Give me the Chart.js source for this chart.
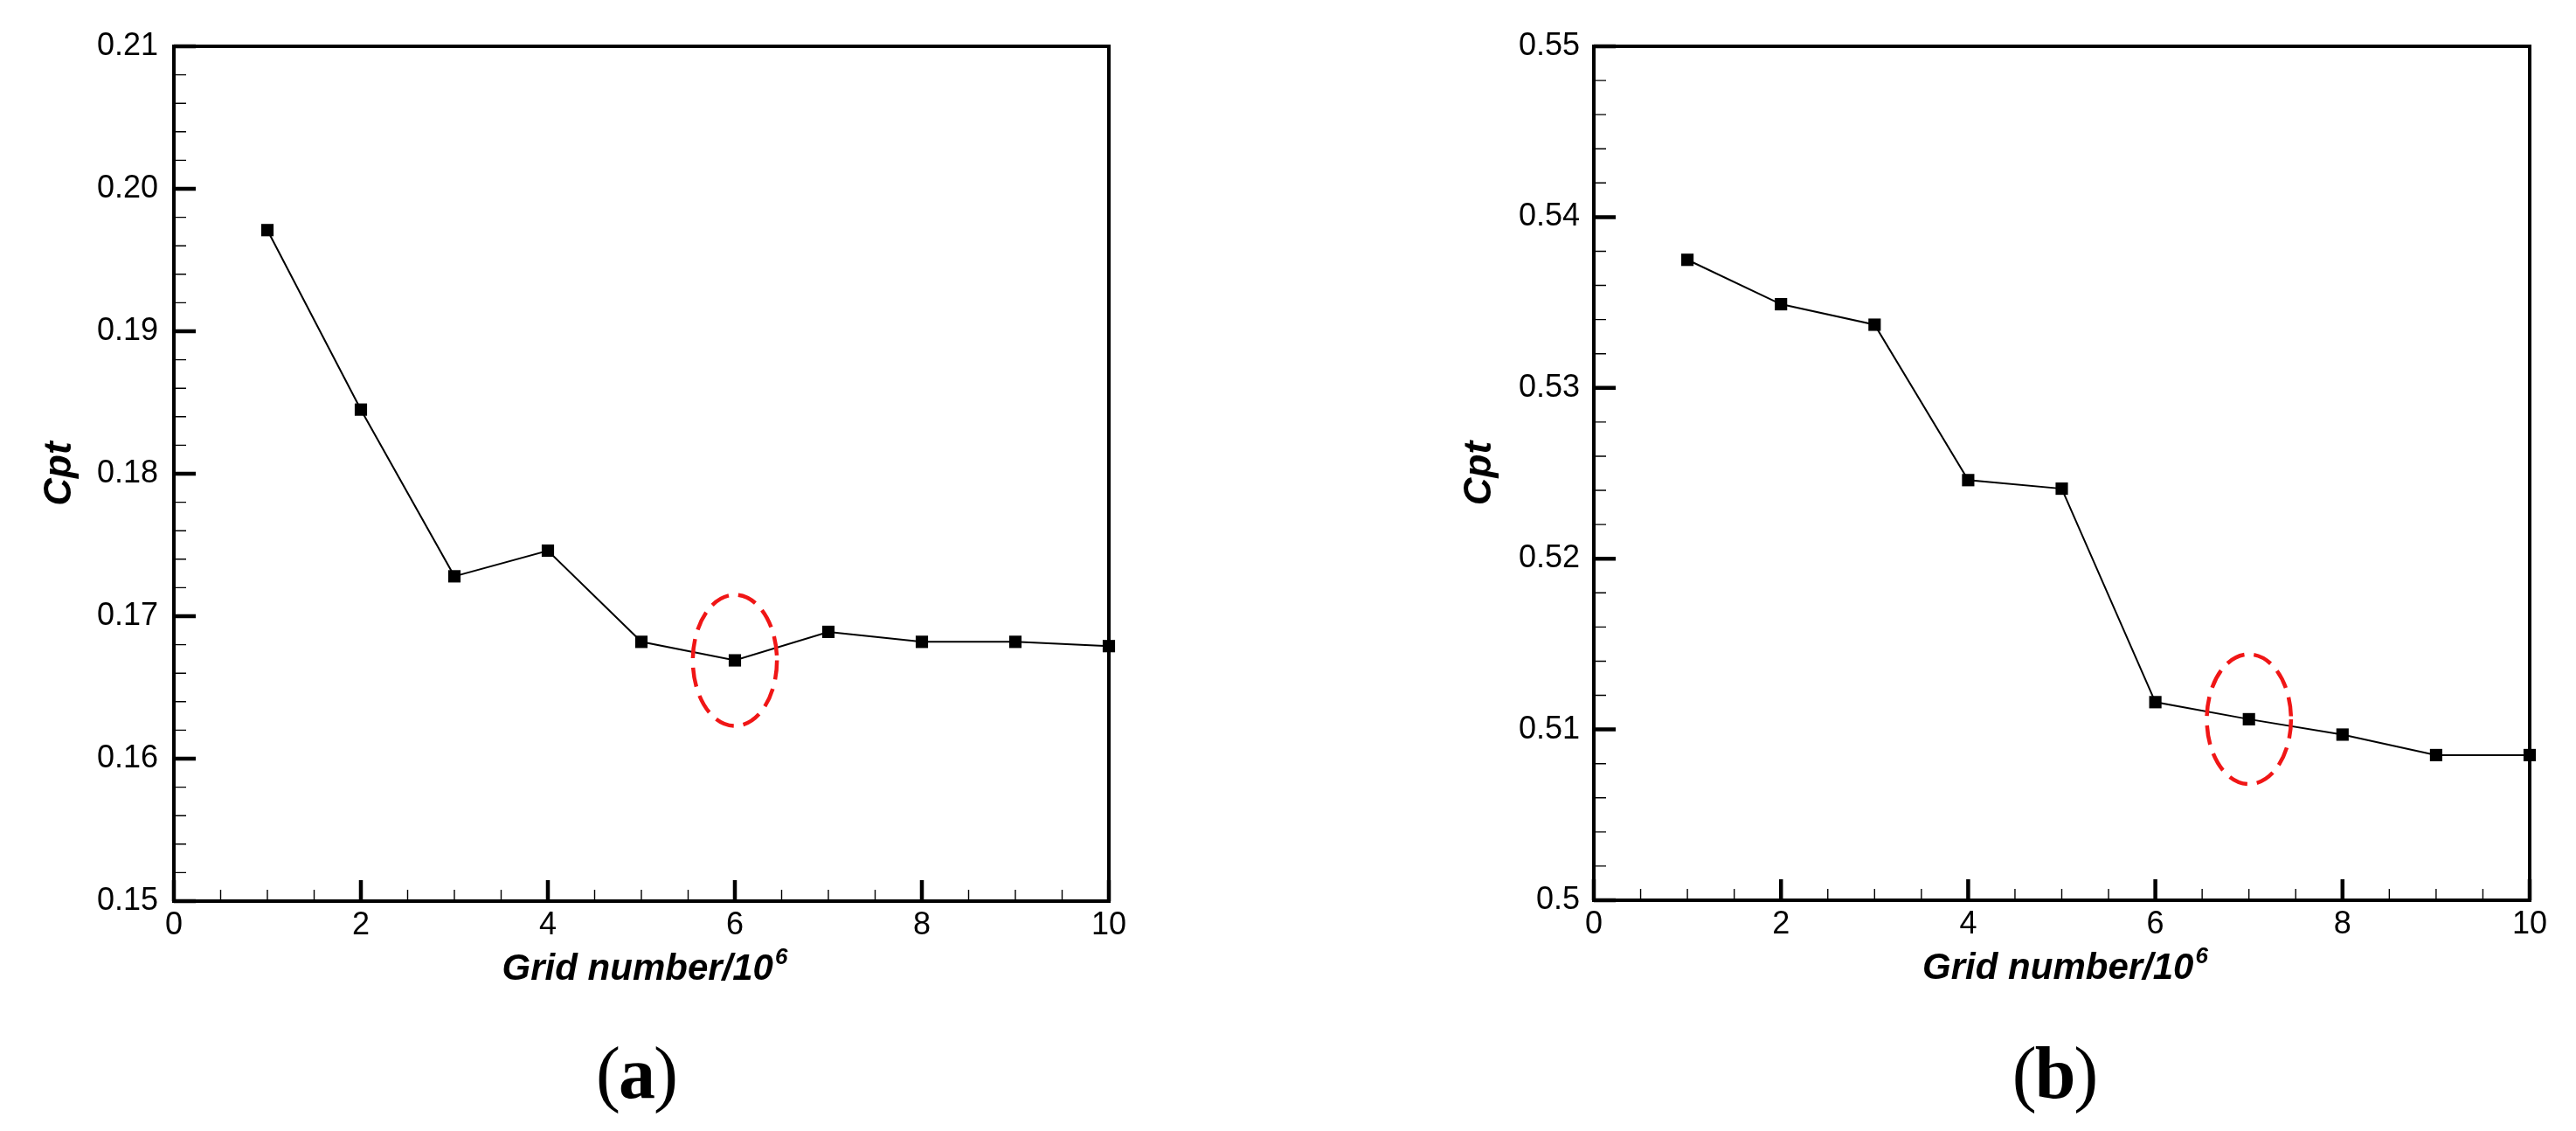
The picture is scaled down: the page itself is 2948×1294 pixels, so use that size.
<!DOCTYPE html>
<html>
<head>
<meta charset="utf-8">
<title>Cpt vs grid number</title>
<script src="https://cdn.jsdelivr.net/npm/chart.js@4.4.1/dist/chart.umd.min.js"></script>
<style>
  html, body { margin: 0; padding: 0; background: #fff; }
  #wrap { position: relative; width: 2948px; height: 1294px; overflow: hidden; }
  canvas { position: absolute; top: 0; }
  .panel-tag {
    position: absolute; top: 1186px; width: 200px; text-align: center;
    font-family: 'Liberation Serif', 'Times New Roman', serif;
    font-size: 84px; line-height: 84px; color: #000; letter-spacing: -2px;
  }
</style>
</head>
<body>
<div id="wrap">
  <canvas id="chartA" width="1474" height="1294" style="left:0"></canvas>
  <canvas id="chartB" width="1474" height="1294" style="left:1474px"></canvas>
  <div class="panel-tag" style="left:628px">(<b>a</b>)</div>
  <div class="panel-tag" style="left:2251px">(<b>b</b>)</div>
</div>
<script>
// data
const gridNumbers = [1, 2, 3, 4, 5, 6, 7, 8, 9, 10];
const cptA = [0.1971, 0.1845, 0.1728, 0.1746, 0.1682, 0.1669, 0.1689, 0.1682, 0.1682, 0.1679];
const cptB = [0.5375, 0.5349, 0.5337, 0.5246, 0.5241, 0.5116, 0.5106, 0.5097, 0.5085, 0.5085];

const xTickLabels = ['0', '2', '4', '6', '8', '10'];
const yTickLabelsA = ['0.15', '0.16', '0.17', '0.18', '0.19', '0.20', '0.21'];
const yTickLabelsB = ['0.5', '0.51', '0.52', '0.53', '0.54', '0.55'];

const xTitle = 'Grid number/10';
const xTitleExp = '6';
const yTitle = 'Cpt';

// highlighted (dashed) point of each panel: grid number index
const markedA = 5; // 6 x 10^6
const markedB = 6; // 7 x 10^6

const SANS = "'Liberation Sans', Arial, sans-serif";

// frame + inward major/minor ticks, like the Tecplot original
const frameTicks = {
  id: 'frameTicks',
  beforeDatasetsDraw(chart) {
    const { ctx, chartArea: a, scales: { x, y } } = chart;
    const o = chart.options.plugins.frameTicks;
    ctx.save();
    ctx.strokeStyle = '#000';
    const drawSet = (scale, step, len, width, horiz) => {
      const n = Math.round((scale.max - scale.min) / step);
      ctx.lineWidth = width;
      ctx.beginPath();
      for (let i = 0; i <= n; i++) {
        const p = scale.getPixelForValue(scale.min + i * step);
        if (horiz) { ctx.moveTo(p, a.bottom); ctx.lineTo(p, a.bottom - len); }
        else { ctx.moveTo(a.left, p); ctx.lineTo(a.left + len, p); }
      }
      ctx.stroke();
    };
    drawSet(x, o.xMinor, 13, 1.4, true);
    drawSet(y, o.yMinor, 14, 1.4, false);
    drawSet(x, o.xMajor, 24, 4.5, true);
    drawSet(y, o.yMajor, 25, 4.5, false);
    ctx.lineWidth = 4;
    ctx.strokeRect(a.left, a.top, a.right - a.left, a.bottom - a.top);
    ctx.restore();
  },
  // x title with a raised exponent
  afterDraw(chart) {
    const { ctx, chartArea: a } = chart;
    const big = 'italic bold 42px ' + SANS, small = 'italic bold 26px ' + SANS;
    ctx.save();
    ctx.fillStyle = '#000';
    ctx.textBaseline = 'alphabetic';
    ctx.font = big;
    const w1 = ctx.measureText(xTitle).width;
    ctx.font = small;
    const w2 = ctx.measureText(xTitleExp).width;
    const x0 = (a.left + a.right) / 2 + 4 - (w1 + w2 + 2) / 2;
    const base = a.bottom + 90;
    ctx.font = big;
    ctx.fillText(xTitle, x0, base);
    ctx.font = small;
    ctx.fillText(xTitleExp, x0 + w1 + 2, base - 18);
    ctx.restore();
  }
};

// dashed red ellipse round the chosen grid
const highlight = {
  id: 'highlight',
  afterDatasetsDraw(chart) {
    const o = chart.options.plugins.highlight;
    const { ctx, scales: { x, y } } = chart;
    const cx = x.getPixelForValue(o.x), cy = y.getPixelForValue(o.y);
    const rx = Math.abs(x.getPixelForValue(o.x + o.rx) - cx);
    const ry = Math.abs(y.getPixelForValue(o.y + o.ry) - cy);
    ctx.save();
    ctx.strokeStyle = 'rgb(240,22,22)';
    ctx.lineWidth = 4.5;
    ctx.setLineDash([22, 11]);
    ctx.beginPath();
    ctx.ellipse(cx, cy, rx, ry, 0, 0, Math.PI * 2);
    ctx.stroke();
    ctx.restore();
  }
};

function makeChart(id, values, yLabels, yMin, yMax, box, marked, ry) {
  return new Chart(document.getElementById(id), {
    type: 'line',
    data: {
      datasets: [{
        data: gridNumbers.map((g, i) => ({ x: g, y: values[i] })),
        borderColor: '#000',
        borderWidth: 2,
        tension: 0,
        pointStyle: 'rect',
        pointRadius: 10,
        pointBorderWidth: 0,
        pointBackgroundColor: '#000',
        clip: false
      }]
    },
    options: {
      responsive: false,
      animation: false,
      layout: { padding: { left: 0, right: box.right, top: 53, bottom: 0 } },
      plugins: {
        legend: { display: false },
        tooltip: { enabled: false },
        frameTicks: { xMajor: 2, xMinor: 0.5, yMajor: 0.01, yMinor: 0.002 },
        highlight: { x: gridNumbers[marked], y: values[marked], rx: 0.45, ry: ry }
      },
      scales: {
        x: {
          type: 'linear', min: 0, max: 10,
          afterFit: s => { s.height = box.xh; },
          afterBuildTicks: s => { s.ticks = xTickLabels.map(t => ({ value: Number(t) })); },
          grid: { display: false, drawTicks: false },
          border: { display: false },
          ticks: {
            padding: 6, color: '#000', maxRotation: 0,
            font: { family: SANS, size: 36 },
            callback: (v, i) => xTickLabels[i]
          }
        },
        y: {
          type: 'linear', min: yMin, max: yMax,
          afterFit: s => { s.width = box.yw; },
          afterBuildTicks: s => { s.ticks = yLabels.map(t => ({ value: Number(t) })); },
          grid: { display: false, drawTicks: false },
          border: { display: false },
          ticks: {
            padding: box.tp, color: '#000',
            font: { family: SANS, size: 36 },
            callback: (v, i) => yLabels[i]
          },
          title: {
            display: true, text: yTitle, color: '#000',
            font: { family: SANS, size: 44, weight: 'bold', style: 'italic' },
            padding: { top: box.tt, bottom: 0 }
          }
        }
      }
    },
    plugins: [frameTicks, highlight]
  });
}

makeChart('chartA', cptA, yTickLabelsA, 0.15, 0.21,
  { right: 205, xh: 263, yw: 199, tp: 18, tt: 42 }, markedA, 0.0046);
makeChart('chartB', cptB, yTickLabelsB, 0.5, 0.55,
  { right: 53, xh: 264, yw: 350, tp: 16, tt: 193 }, markedB, 0.0038);
</script>
</body>
</html>
